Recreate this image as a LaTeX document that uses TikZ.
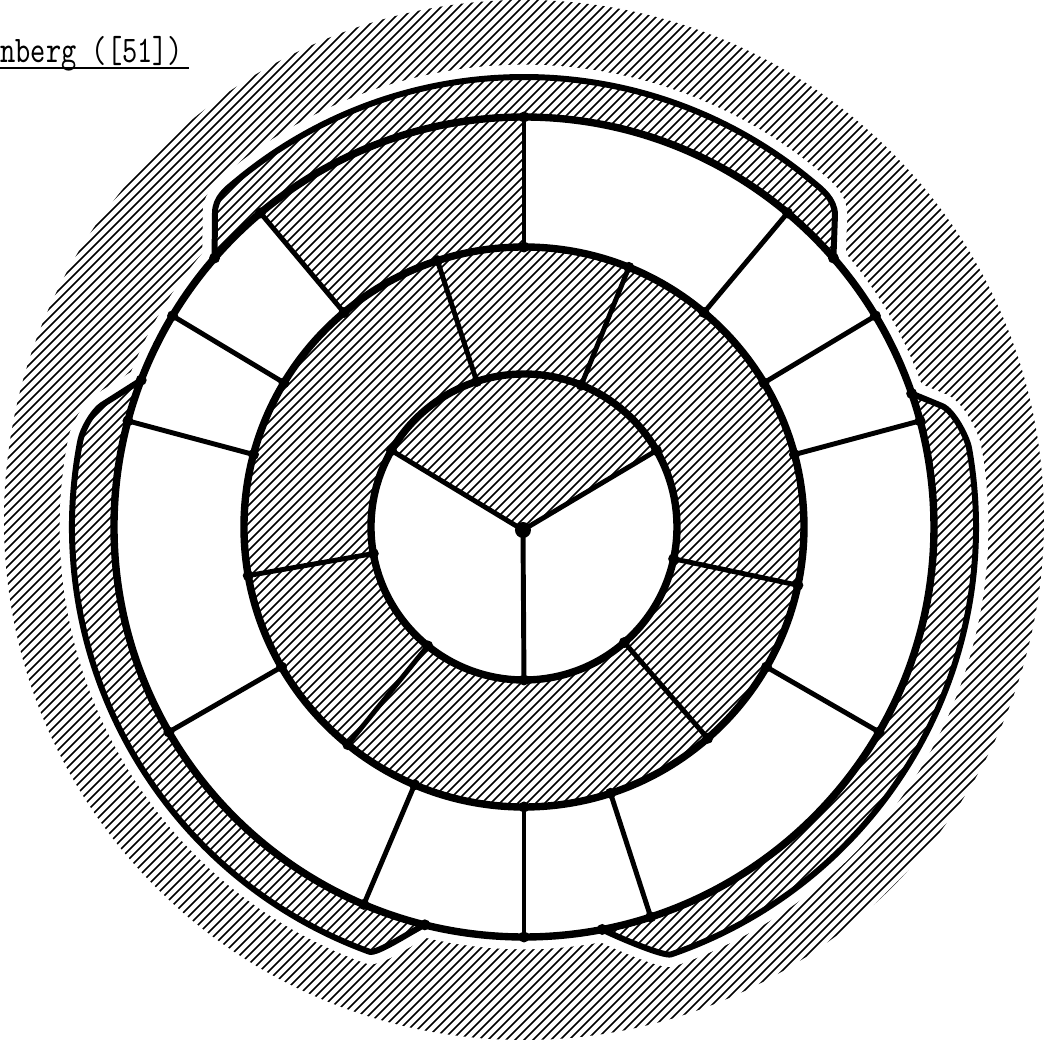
\documentclass[tikz,border=0pt]{standalone}
\usepackage{tikz}
\usetikzlibrary{calc}

% outer rims of the three lobes, from junction to junction
\newcommand{\lobetop}{(o139) -- (-309,314) .. controls (-309,330) and (-296.2,338.9) .. (130:450)
  arc[start angle=130,end angle=50,radius=450] .. controls (297,338.3) and (311,328) .. (311,312) -- (o41)}
\newcommand{\lobeleft}{(o159) -- (-422,122) .. controls (-430.4,116.6) and (-441.4,98) .. (169:452)
  arc[start angle=169,end angle=250,radius=452] .. controls (-147,-427.4) and (-111.2,-403.3) .. (o256)}
\newcommand{\loberight}{(o19) -- (418,121) .. controls (429.1,116.4) and (443,90.3) .. (10:452)
  arc[start angle=10,end angle=-71,radius=452] .. controls (139.6,-430) and (90.2,-408.5) .. (o281)}
% diagonal hatching, to be clipped
\newcommand{\hatchall}{\foreach \k in {-1062,-1053,...,1062}
  \draw[hatchline] (\k-560,-560) -- (\k+560,560);}

\begin{document}
\begin{tikzpicture}[x=0.01cm, y=0.01cm,
  ring/.style={line width=2.1pt},
  spoke/.style={line width=1.4pt, line cap=round},
  lobe/.style={line width=1.7pt, line join=round},
  halo/.style={fill=white, draw=white, line width=7pt, line join=round},
  hatchline/.style={line width=0.45pt}]
  \useasboundingbox (-524,-515) rectangle (526,527);
  % vertices on the hub and the three rings
  \coordinate (h) at (-1,-3);
  \foreach \a in {30,68,108,150,190,231,270,311,348}
    \coordinate (i\a) at (\a:153);
  \foreach \a in {15,31,50,68,90,108,130,149,165,190,210,231,247,270,288,311,330,348}
    \coordinate (m\a) at (\a:280);
  \foreach \a in {15,19,31,41,50,90,130,139,149,159,165,210,247,256,270,281,288,330}
    \coordinate (o\a) at (\a:410);

  % hatched background disc
  \begin{scope}
    \clip (0,7) circle (520);
    \hatchall
  \end{scope}
  % white margin round the map
  \path[halo] (0,0) circle (410);
  \path[halo] \lobetop arc[start angle=41,end angle=139,radius=410] -- cycle;
  \path[halo] \lobeleft arc[start angle=256,end angle=159,radius=410] -- cycle;
  \path[halo] \loberight arc[start angle=-79,end angle=19,radius=410] -- cycle;

  % hatched faces
  \begin{scope}[even odd rule]
    \clip (0,0) circle (280) (0,0) circle (153)
      (h) -- (i30) arc[start angle=30,end angle=150,radius=153] -- cycle
      (m90) -- (o90) arc[start angle=90,end angle=130,radius=410] -- (m130)
        arc[start angle=130,end angle=90,radius=280] -- cycle
      \lobetop arc[start angle=41,end angle=139,radius=410] -- cycle
      \lobeleft arc[start angle=256,end angle=159,radius=410] -- cycle
      \loberight arc[start angle=-79,end angle=19,radius=410] -- cycle;
    \hatchall
  \end{scope}

  % rings and lobes
  \draw[ring] (0,0) circle (153) (0,0) circle (280) (0,0) circle (410);
  \draw[lobe] \lobetop;
  \draw[lobe] \lobeleft;
  \draw[lobe] \loberight;

  % spokes
  \foreach \a in {30,150,270}
    \draw[spoke] (h) -- (i\a);
  \foreach \a in {68,108,190,231,311,348}
    \draw[spoke] (i\a) -- (m\a);
  \foreach \a in {15,31,50,90,130,149,165,210,247,270,288,330}
    \draw[spoke] (m\a) -- (o\a);

  % vertex dots
  \fill (h) circle (8);
  \foreach \a in {30,68,108,150,190,231,270,311,348}
    \fill (i\a) circle (5.5);
  \foreach \a in {15,31,50,68,90,108,130,149,165,190,210,231,247,270,288,311,330,348}
    \fill (m\a) circle (5.5);
  \foreach \a in {15,19,31,41,50,90,130,139,149,159,165,210,247,256,270,281,288,330}
    \fill (o\a) circle (5.5);

  % caption fragment
  \node[anchor=base west, inner sep=0, xscale=0.77, transform shape,
    font=\fontsize{10.7}{12}\ttfamily] (title) at (-524,464) {nberg ([51])};
  \draw[line width=0.55pt] ([yshift=-1.5pt]title.base west) -- ([yshift=-1.5pt,xshift=1.4pt]title.base east);
\end{tikzpicture}
\end{document}
